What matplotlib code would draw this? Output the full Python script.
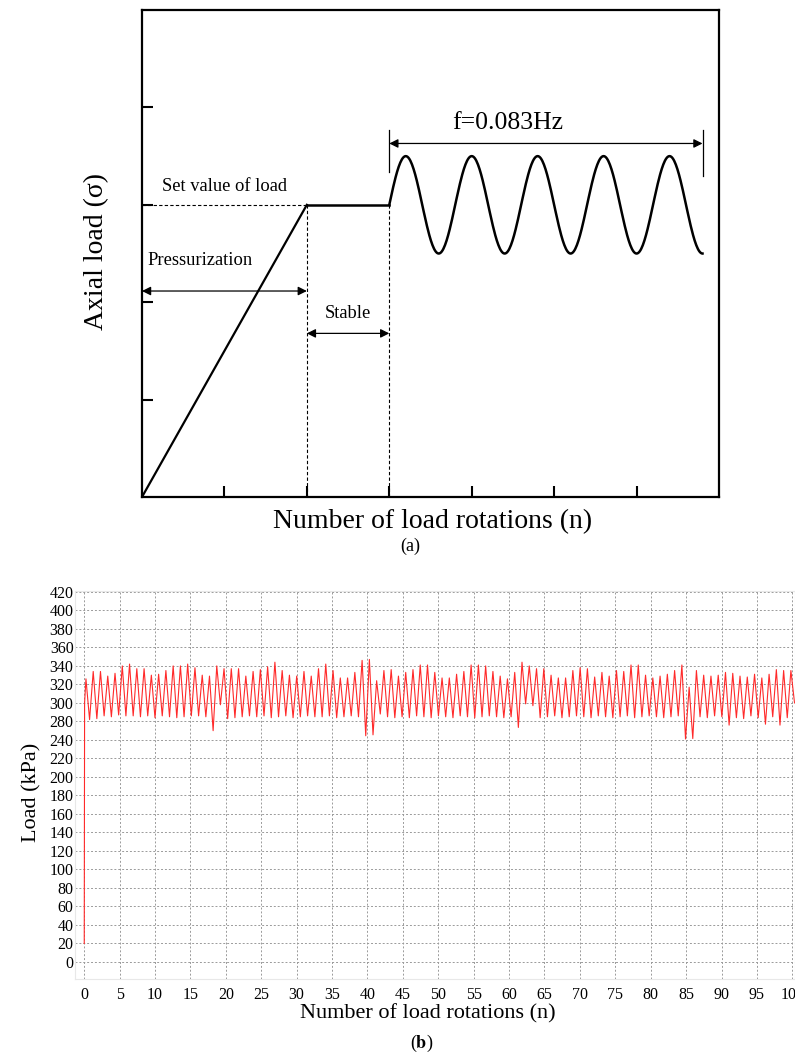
import numpy as np
import matplotlib.pyplot as plt

plt.rcParams['font.family'] = ['Liberation Serif', 'DejaVu Serif']
plt.rcParams['mathtext.fontset'] = 'stix'

# (a) schematic of the loading path
ramp_u = [0, 2]
ramp_v = [0, 3]
hold_u = [2, 3]
hold_v = [3, 3]
set_value = 3
cyc_start = 3.0
cyc_period = 0.8
cyc_amp = 0.5
cyc_count = 4.75
freq_label = 'f=0.083Hz'

# (b) measured load record, one peak and one trough per rotation
start_n = [0.0, 0.05]
start_load = [20, 300]
first_peak_n = 0.24
last_peak_n = 99.8
peaks = [326, 334, 334, 329, 332, 340, 342, 337, 337, 330,
         331, 335, 340, 340, 342, 338, 330, 329, 340, 337,
         337, 337, 329, 334, 336, 339, 344, 335, 330, 329,
         334, 329, 337, 342, 335, 327, 327, 333, 346, 347,
         324, 335, 336,
         329, 333, 336, 341, 341, 333, 327, 327, 331, 334,
         341, 341, 340, 334, 329, 326, 333, 344, 340, 337,
         337, 330, 327, 327, 335, 338, 337, 328, 333, 329,
         335, 334, 341, 341, 330, 327, 329, 331, 335, 341,
         317, 335, 330, 329, 330, 333, 332, 329, 328, 331,
         327, 331, 336, 335, 335]
troughs = [282, 283, 286, 285, 287, 286, 286, 285, 286, 284,
           286, 285, 284, 285, 286, 286, 285, 260, 298, 283,
           284, 285, 286, 285, 286, 284, 285, 286, 284, 285,
           286, 285, 285, 286, 284, 285, 286, 285, 249, 251,
           288, 285, 284,
           285, 284, 286, 285, 284, 286, 285, 284, 286, 285,
           284, 285, 286, 285, 284, 285, 267, 299, 297, 284,
           285, 286, 284, 285, 286, 285, 284, 286, 285, 284,
           285, 286, 284, 285, 286, 285, 284, 285, 286, 242,
           243, 285, 284, 286, 285, 272, 284, 283, 286, 284,
           274, 285, 272, 284, 300]
ytick_vals = [0, 20, 40, 60, 80, 100, 120, 140, 160, 180, 200, 220, 240,
              280, 300, 320, 340, 360, 380, 400, 420]
xtick_vals = list(range(0, 101, 5))


fig = plt.figure(figsize=(7.95, 10.57), dpi=100)

# ---------------- (a) ----------------
ax1 = fig.add_axes([0.1786, 0.5298, 0.7258, 0.4607])
ax1.set_xlim(0, 7)
ax1.set_ylim(0, 5)
for s in ax1.spines.values():
    s.set_linewidth(1.6)
ax1.set_xticks([1, 2, 3, 4, 5, 6])
ax1.set_yticks([1, 2, 3, 4])
ax1.tick_params(direction='in', length=8, width=1.5,
                labelbottom=False, labelleft=False)

u = np.linspace(cyc_start, cyc_start + cyc_count * cyc_period, 400)
v = set_value + cyc_amp * np.sin(2 * np.pi * (u - cyc_start) / cyc_period)
ax1.plot(ramp_u, ramp_v, color='black', lw=1.6)
ax1.plot(hold_u, hold_v, color='black', lw=1.8)
ax1.plot(u, v, color='black', lw=1.8)

dash = dict(color='black', lw=0.8, ls=(0, (3, 2)))
ax1.plot([0, 2], [set_value, set_value], **dash)
ax1.plot([2, 2], [0, set_value], **dash)
ax1.plot([3, 3], [0, set_value], **dash)

arr = dict(arrowstyle='<|-|>', color='black', lw=0.9, mutation_scale=13,
           shrinkA=0, shrinkB=0)
ax1.annotate('', xy=(0, 2.115), xytext=(2, 2.115), arrowprops=arr)
ax1.annotate('', xy=(2, 1.68), xytext=(3, 1.68), arrowprops=arr)
u_end = cyc_start + cyc_count * cyc_period
ax1.annotate('', xy=(cyc_start, 3.63), xytext=(u_end, 3.63), arrowprops=arr)
ax1.plot([cyc_start, cyc_start], [3.34, 3.77], color='black', lw=0.9)
ax1.plot([u_end, u_end], [3.30, 3.77], color='black', lw=0.9)

ax1.text(0.24, 3.19, 'Set value of load', fontsize=13.3, va='center')
ax1.text(0.07, 2.43, 'Pressurization', fontsize=13.3, va='center')
ax1.text(2.5, 1.88, 'Stable', fontsize=13.3, va='center', ha='center')
ax1.text(4.44, 3.84, freq_label, fontsize=18.5, va='center', ha='center')

fig.text(433 / 795, 1 - 522 / 1057, 'Number of load rotations (n)',
         fontsize=20, ha='center', va='center')
fig.text(97 / 795, 1 - 252 / 1057, 'Axial load (σ)', fontsize=20,
         rotation=90, ha='center', va='center')
fig.text(410 / 795, 1 - 546 / 1057, '(a)', fontsize=13,
         ha='center', va='center')

# ---------------- (b) ----------------
def fwd(y):
    y = np.asarray(y, dtype=float)
    return np.where(y <= 240, y, np.where(y >= 280, y - 20, 240 + (y - 240) / 2))


def inv(p):
    p = np.asarray(p, dtype=float)
    return np.where(p <= 240, p, np.where(p >= 260, p + 20, 240 + (p - 240) * 2))


ax2 = fig.add_axes([0.0943, 0.0738, 0.9057, 0.3671])
ax2.set_yscale('function', functions=(fwd, inv))

peak_n = np.linspace(first_peak_n, last_peak_n, len(peaks))
half = (peak_n[1] - peak_n[0]) / 2
n_all = list(start_n)
load_all = list(start_load)
for pn, pk, tr in zip(peak_n, peaks, troughs):
    n_all += [pn, pn + half]
    load_all += [pk, tr]
ax2.plot(n_all, load_all, color='#ff2a2a', lw=0.8)

ax2.set_xlim(-1.31, 100.38)
ax2.set_ylim(-18.4, 421)
ax2.set_xticks(xtick_vals)
ax2.set_yticks(ytick_vals)
ax2.set_yticklabels([str(t) for t in ytick_vals])
ax2.minorticks_off()
ax2.tick_params(length=0, labelsize=11.5)
ax2.tick_params(axis='x', pad=6)
ax2.tick_params(axis='y', pad=1)
ax2.grid(True, color='#9a9a9a', ls=(0, (2, 2)), lw=0.7)
for s in ax2.spines.values():
    s.set_color('#e8e8e8')
    s.set_linewidth(0.8)

fig.text(428 / 795, 1 - 1014 / 1057, 'Number of load rotations (n)',
         fontsize=16, ha='center', va='center')
fig.text(32 / 795, 1 - 792 / 1057, 'Load (kPa)', fontsize=16,
         rotation=90, ha='center', va='center')
fig.text(422 / 795, 1 - 1043 / 1057, r'($\mathbf{b}$)', fontsize=13,
         ha='center', va='center')

fig.savefig('out.png', dpi=100)
